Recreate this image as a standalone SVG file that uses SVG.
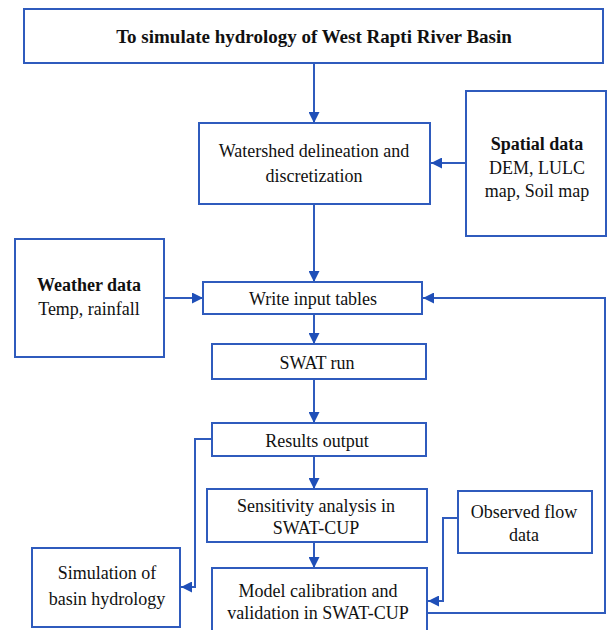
<svg xmlns="http://www.w3.org/2000/svg" width="607" height="630" viewBox="0 0 607 630">
<defs>
<style>
.box{fill:#ffffff;stroke:#2f5bbd;stroke-width:2}
.ln{fill:none;stroke:#2f5bbd;stroke-width:2}
text{font-family:"Liberation Serif","Times New Roman",serif;font-size:18px;fill:#111111;text-anchor:middle}
.b{font-weight:bold}
</style>
<marker id="ah" viewBox="0 0 10 10" refX="10" refY="5" markerWidth="11" markerHeight="11" markerUnits="userSpaceOnUse" orient="auto">
<path d="M0,0 L10,5 L0,10 z" fill="#1f4fb8"/>
</marker>
</defs>
<rect width="607" height="630" fill="#ffffff"/>
<g id="connectors">
<path class="ln" d="M314,63 V123" marker-end="url(#ah)"/>
<path class="ln" d="M466,163 H431" marker-end="url(#ah)"/>
<path class="ln" d="M314,204 V282" marker-end="url(#ah)"/>
<path class="ln" d="M164,298 H203" marker-end="url(#ah)"/>
<path class="ln" d="M314,314 V344" marker-end="url(#ah)"/>
<path class="ln" d="M314,379 V423" marker-end="url(#ah)"/>
<path class="ln" d="M314,456 V489" marker-end="url(#ah)"/>
<path class="ln" d="M314,542 V568" marker-end="url(#ah)"/>
<path class="ln" d="M212,439 H195 V587 H181" marker-end="url(#ah)"/>
<path class="ln" d="M458,518 H443 V601 H428" marker-end="url(#ah)"/>
<path class="ln" d="M427,613 H605 V298 H423" marker-end="url(#ah)"/>
</g>
<g id="goal">
<rect class="box" x="24" y="9" width="579" height="54"/>
<text class="b" x="314" y="43" style="font-size:19px">To simulate hydrology of West Rapti River Basin</text>
</g>
<g id="watershed">
<rect class="box" x="199" y="123" width="231" height="81"/>
<text x="314" y="157">Watershed delineation and</text>
<text x="314" y="182">discretization</text>
</g>
<g id="spatial">
<rect class="box" x="466" y="91" width="140" height="145"/>
<text class="b" x="537" y="150">Spatial data</text>
<text x="537" y="174">DEM, LULC</text>
<text x="537" y="197">map, Soil map</text>
</g>
<g id="weather">
<rect class="box" x="15" y="239" width="149" height="118"/>
<text class="b" x="89" y="291">Weather data</text>
<text x="89" y="315">Temp, rainfall</text>
</g>
<g id="write">
<rect class="box" x="203" y="282" width="219" height="32"/>
<text x="313" y="305">Write input tables</text>
</g>
<g id="swat">
<rect class="box" x="212" y="344" width="214" height="35"/>
<text x="317" y="369">SWAT run</text>
</g>
<g id="results">
<rect class="box" x="212" y="423" width="214" height="33"/>
<text x="317" y="447">Results output</text>
</g>
<g id="sensitivity">
<rect class="box" x="207" y="489" width="220" height="53"/>
<text x="316" y="512">Sensitivity analysis in</text>
<text x="316" y="534">SWAT-CUP</text>
</g>
<g id="observed">
<rect class="box" x="458" y="491" width="134" height="62"/>
<text x="524" y="518">Observed flow</text>
<text x="524" y="541">data</text>
</g>
<g id="simulation">
<rect class="box" x="32" y="548" width="148" height="79"/>
<text x="107" y="579">Simulation of</text>
<text x="107" y="605">basin hydrology</text>
</g>
<g id="calibration">
<rect class="box" x="212" y="568" width="215" height="80"/>
<text x="318" y="597">Model calibration and</text>
<text x="318" y="619">validation in SWAT-CUP</text>
</g>
</svg>
